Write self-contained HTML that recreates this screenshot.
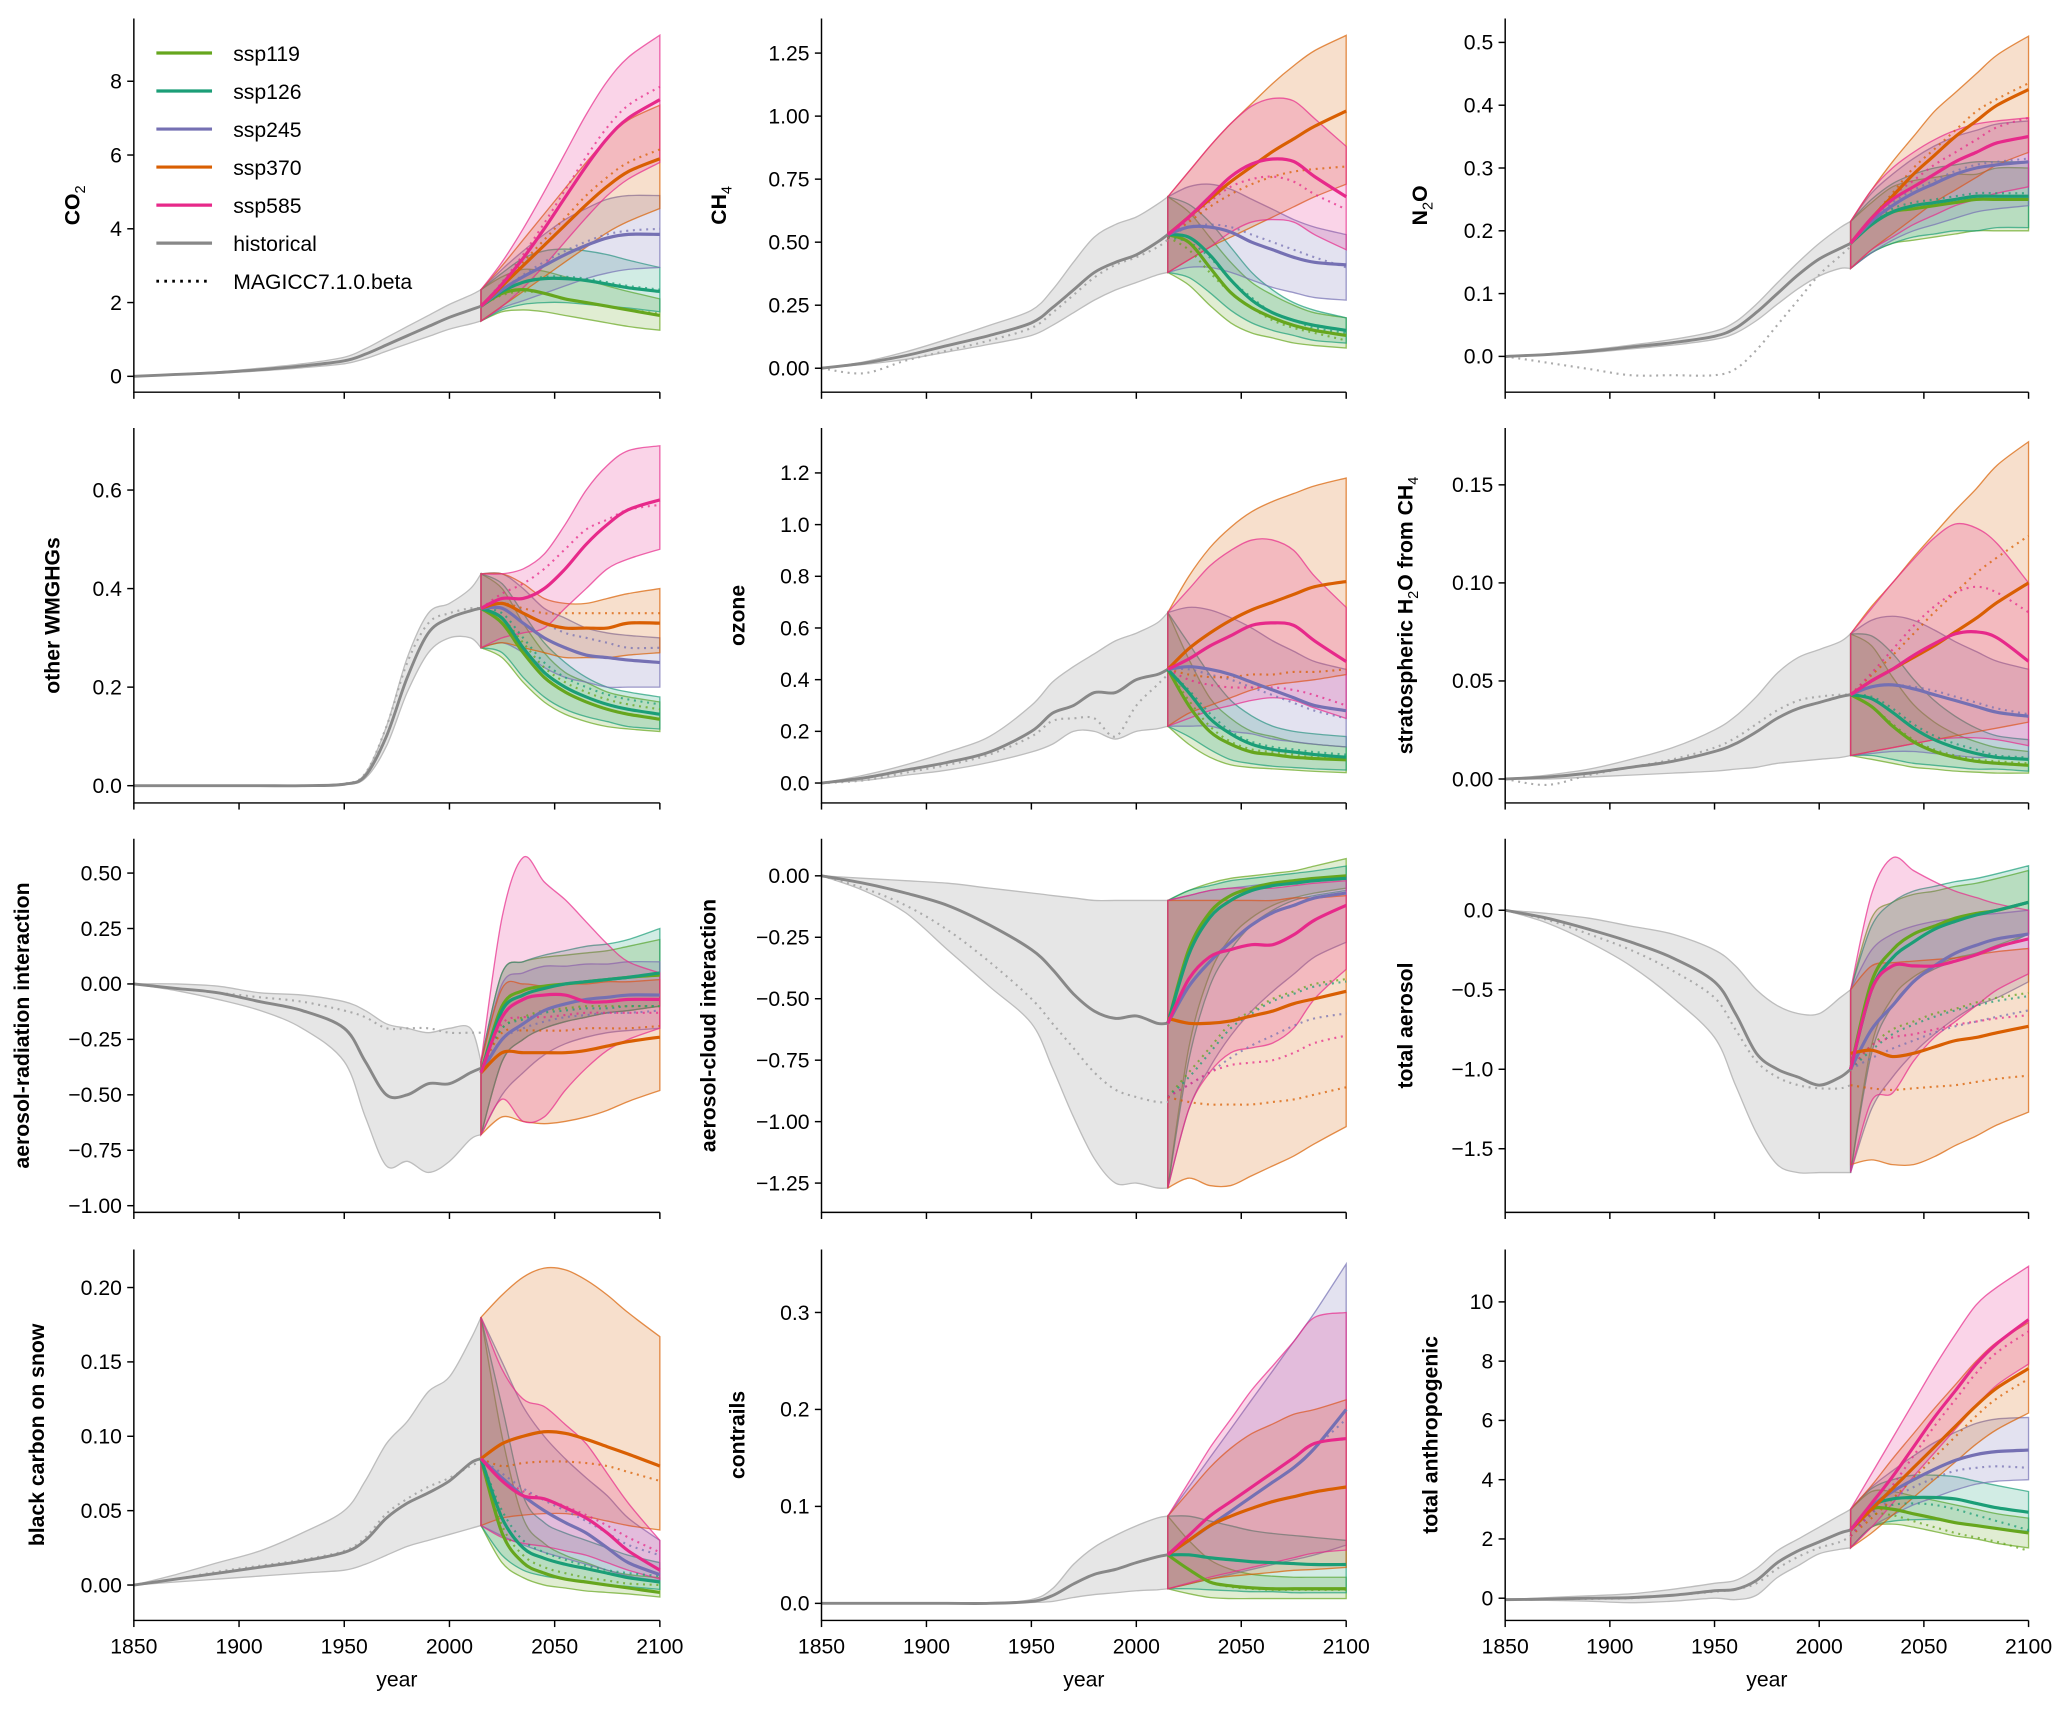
<!DOCTYPE html>
<html><head><meta charset="utf-8"><style>
html,body{margin:0;padding:0;background:#fff;}
svg{display:block;font-family:"Liberation Sans",Arial,sans-serif;}
</style></head><body>
<svg id="fig" width="2067" height="1710" viewBox="0 0 1560 1290.6" xmlns="http://www.w3.org/2000/svg"></svg>
<script>
// ---- data ----
const histYears = [1850,1870,1890,1910,1930,1950,1960,1970,1980,1990,2000,2010,2015];
const scenYears = [2015,2025,2035,2045,2055,2065,2075,2085,2100];
const scenNames = ["ssp119","ssp126","ssp245","ssp370","ssp585"];
const scenColors = ["#66a61e","#1b9e77","#7570b3","#d95f02","#e7298a"];
const xTicks = [1850,1900,1950,2000,2050,2100];

const co2Hist = {med:[0,.05,.1,.18,.28,.42,.6,.85,1.1,1.35,1.6,1.8,1.9], lo:[0,.04,.08,.15,.23,.34,.48,.68,.88,1.08,1.28,1.42,1.5], hi:[0,.06,.12,.22,.34,.52,.75,1.05,1.35,1.65,1.95,2.2,2.35], mag:[0,.05,.1,.18,.28,.42,.6,.85,1.1,1.35,1.6,1.8,1.9]};
const co2Med = [[1.9,2.25,2.35,2.25,2.1,2.0,1.9,1.8,1.65],[1.9,2.3,2.55,2.65,2.65,2.6,2.5,2.4,2.3],[1.9,2.35,2.7,3.0,3.3,3.55,3.75,3.85,3.85],[1.9,2.45,3.0,3.55,4.1,4.65,5.15,5.55,5.9],[1.9,2.5,3.2,4.0,4.85,5.7,6.45,7.0,7.5]];
const co2Lo = [[1.5,1.75,1.8,1.75,1.65,1.55,1.45,1.35,1.25],[1.5,1.8,1.95,2.0,2.0,1.95,1.9,1.85,1.75],[1.5,1.85,2.05,2.25,2.45,2.65,2.8,2.9,2.95],[1.5,1.9,2.3,2.7,3.1,3.5,3.9,4.2,4.55],[1.5,1.9,2.4,3.0,3.65,4.3,4.9,5.35,5.8]];
const co2Hi = [[2.35,2.7,2.9,2.85,2.7,2.6,2.45,2.3,2.1],[2.35,2.8,3.2,3.4,3.45,3.4,3.3,3.15,2.95],[2.35,2.9,3.4,3.85,4.25,4.55,4.8,4.9,4.9],[2.35,3.0,3.7,4.4,5.1,5.8,6.45,6.95,7.35],[2.35,3.1,4.0,5.0,6.05,7.1,8.0,8.65,9.25]];
const co2Mag = [[1.9,2.2,2.3,2.25,2.1,2.0,1.9,1.8,1.7],[1.9,2.3,2.55,2.7,2.7,2.65,2.55,2.45,2.35],[1.9,2.35,2.75,3.1,3.4,3.65,3.85,3.95,4.0],[1.9,2.5,3.1,3.7,4.3,4.9,5.4,5.8,6.15],[1.9,2.55,3.3,4.15,5.05,5.95,6.75,7.35,7.85]];

const ch4Hist = {med:[0,.02,.05,.09,.13,.18,.24,.31,.38,.42,.45,.5,.53], lo:[0,.015,.035,.065,.095,.13,.17,.22,.27,.31,.34,.37,.38], hi:[0,.025,.065,.115,.17,.23,.31,.42,.52,.57,.6,.65,.68], mag:[0,-.02,.03,.07,.11,.16,.22,.29,.36,.41,.44,.48,.51]};
const ch4Med = [[.53,.5,.4,.3,.24,.2,.17,.15,.13],[.53,.52,.45,.35,.27,.22,.19,.17,.15],[.53,.56,.56,.54,.5,.47,.44,.42,.41],[.53,.6,.67,.74,.8,.86,.91,.96,1.02],[.53,.6,.68,.76,.81,.83,.82,.76,.68]];
const ch4Lo = [[.38,.33,.25,.18,.14,.12,.1,.09,.08],[.38,.36,.3,.23,.18,.15,.13,.11,.1],[.38,.4,.4,.38,.35,.32,.3,.28,.27],[.38,.43,.48,.52,.56,.6,.64,.68,.73],[.38,.43,.48,.54,.58,.59,.58,.53,.47]];
const ch4Hi = [[.68,.62,.52,.42,.34,.29,.25,.22,.2],[.68,.65,.58,.48,.38,.31,.26,.23,.2],[.68,.72,.73,.71,.67,.63,.59,.56,.53],[.68,.78,.88,.97,1.05,1.13,1.2,1.26,1.32],[.68,.78,.88,.97,1.04,1.07,1.06,.99,.88]];
const ch4Mag = [[.52,.47,.38,.3,.24,.19,.16,.14,.11],[.52,.5,.44,.35,.28,.22,.19,.16,.14],[.52,.56,.57,.56,.53,.5,.47,.44,.4],[.52,.58,.64,.69,.73,.76,.78,.79,.8],[.52,.59,.66,.72,.75,.76,.74,.69,.63]];

const n2oHist = {med:[0,.003,.008,.015,.022,.032,.045,.07,.1,.13,.155,.172,.18], lo:[0,.002,.006,.012,.018,.027,.037,.057,.083,.108,.128,.14,.14], hi:[0,.004,.01,.018,.027,.04,.055,.083,.117,.15,.18,.205,.215], mag:[0,-.01,-.02,-.03,-.03,-.03,-.02,.01,.05,.09,.13,.16,.175]};
const n2oMed = [[.18,.21,.23,.235,.24,.245,.25,.25,.25],[.18,.21,.23,.24,.245,.25,.255,.255,.255],[.18,.215,.24,.26,.275,.29,.3,.305,.31],[.18,.22,.255,.29,.32,.35,.375,.4,.425],[.18,.22,.25,.27,.29,.31,.325,.34,.35]];
const n2oLo = [[.14,.165,.18,.185,.19,.195,.2,.2,.2],[.14,.165,.18,.19,.195,.2,.2,.205,.205],[.14,.165,.185,.2,.21,.22,.23,.235,.24],[.14,.17,.195,.22,.245,.265,.285,.305,.325],[.14,.17,.19,.21,.225,.24,.25,.26,.27]];
const n2oHi = [[.215,.245,.27,.28,.285,.29,.29,.3,.3],[.215,.25,.275,.29,.3,.305,.31,.31,.31],[.215,.26,.29,.315,.335,.35,.36,.37,.375],[.215,.265,.31,.35,.39,.42,.45,.48,.51],[.215,.265,.3,.325,.345,.36,.37,.375,.38]];
const n2oMag = [[.18,.21,.23,.24,.245,.25,.25,.25,.25],[.18,.21,.235,.245,.25,.255,.26,.26,.26],[.18,.215,.245,.265,.28,.295,.305,.31,.315],[.18,.22,.26,.3,.33,.36,.39,.41,.435],[.18,.22,.255,.28,.305,.325,.345,.365,.38]];

const wmHist = {med:[0,0,0,0,0,.003,.02,.1,.22,.31,.34,.355,.36], lo:[0,0,0,0,0,.002,.015,.08,.19,.27,.3,.3,.28], hi:[0,0,0,0,0,.004,.025,.12,.26,.35,.37,.4,.43], mag:[0,0,0,0,0,.004,.025,.12,.25,.33,.35,.36,.36]};
const wmMed = [[.36,.33,.27,.22,.19,.17,.155,.145,.135],[.36,.34,.28,.23,.2,.18,.165,.155,.145],[.36,.36,.33,.3,.28,.265,.26,.255,.25],[.36,.37,.35,.33,.32,.32,.32,.33,.33],[.36,.38,.38,.4,.44,.49,.53,.56,.58]];
const wmLo = [[.28,.26,.21,.17,.145,.13,.12,.115,.11],[.28,.27,.22,.18,.155,.14,.13,.12,.115],[.28,.29,.27,.24,.22,.21,.2,.2,.2],[.28,.29,.28,.27,.26,.26,.26,.265,.27],[.28,.3,.31,.32,.36,.4,.44,.46,.48]];
const wmHi = [[.43,.4,.33,.27,.23,.21,.19,.18,.17],[.43,.41,.35,.29,.25,.22,.2,.19,.18],[.43,.43,.4,.36,.34,.32,.31,.305,.3],[.43,.43,.41,.38,.37,.37,.38,.39,.4],[.43,.43,.44,.47,.53,.6,.65,.68,.69]];
const wmMag = [[.36,.34,.29,.24,.21,.19,.175,.165,.155],[.36,.35,.3,.25,.22,.2,.185,.175,.165],[.36,.37,.35,.33,.31,.3,.29,.28,.28],[.36,.37,.36,.35,.35,.35,.35,.35,.35],[.36,.39,.41,.44,.48,.52,.54,.56,.57]];

const o3Hist = {med:[0,.02,.05,.08,.12,.2,.27,.3,.35,.35,.4,.42,.44], lo:[0,.01,.03,.05,.08,.12,.15,.2,.2,.17,.2,.21,.22], hi:[0,.03,.07,.12,.18,.3,.39,.45,.5,.55,.58,.62,.66], mag:[0,.01,.04,.07,.11,.18,.24,.25,.25,.18,.3,.38,.42]};
const o3Med = [[.44,.3,.2,.15,.12,.11,.1,.095,.09],[.44,.35,.25,.19,.15,.13,.12,.11,.1],[.44,.45,.44,.42,.39,.36,.33,.3,.28],[.44,.52,.58,.63,.67,.7,.73,.76,.78],[.44,.48,.53,.57,.61,.62,.61,.55,.47]];
const o3Lo = [[.22,.15,.1,.07,.06,.055,.05,.045,.04],[.22,.18,.13,.09,.075,.065,.06,.055,.05],[.22,.22,.22,.2,.19,.17,.16,.15,.14],[.22,.27,.3,.33,.36,.38,.39,.4,.42],[.22,.25,.28,.3,.32,.33,.32,.29,.25]];
const o3Hi = [[.66,.48,.33,.25,.2,.18,.16,.15,.14],[.66,.54,.42,.32,.26,.22,.2,.19,.18],[.66,.68,.67,.64,.6,.55,.51,.47,.44],[.66,.8,.91,.99,1.05,1.09,1.12,1.15,1.18],[.66,.75,.84,.9,.94,.94,.9,.8,.68]];
const o3Mag = [[.44,.32,.22,.16,.13,.12,.11,.1,.1],[.44,.36,.27,.2,.16,.14,.13,.12,.11],[.44,.44,.42,.4,.37,.34,.31,.28,.25],[.44,.42,.41,.41,.42,.42,.43,.43,.44],[.44,.4,.38,.37,.37,.37,.36,.34,.3]];

const h2oHist = {med:[0,.001,.003,.006,.009,.014,.018,.024,.031,.036,.039,.042,.043], lo:[0,0,.001,.002,.003,.004,.005,.006,.008,.009,.01,.011,.012], hi:[0,.002,.005,.01,.016,.025,.032,.042,.054,.062,.066,.07,.074], mag:[0,-.003,.002,.006,.01,.016,.021,.028,.035,.04,.042,.043,.043]};
const h2oMed = [[.043,.037,.027,.019,.014,.011,.009,.008,.007],[.043,.041,.034,.026,.02,.016,.013,.011,.01],[.043,.047,.048,.046,.043,.04,.037,.034,.032],[.043,.05,.056,.062,.068,.075,.082,.09,.1],[.043,.05,.056,.063,.069,.074,.075,.072,.06]];
const h2oLo = [[.012,.01,.008,.006,.005,.004,.0035,.003,.003],[.012,.012,.01,.008,.007,.006,.005,.005,.004],[.012,.013,.014,.014,.013,.012,.011,.011,.01],[.012,.014,.016,.018,.02,.022,.024,.026,.029],[.012,.014,.016,.018,.02,.021,.021,.02,.017]];
const h2oHi = [[.074,.068,.052,.038,.029,.023,.019,.016,.014],[.074,.073,.064,.051,.04,.032,.026,.022,.02],[.074,.081,.083,.081,.076,.07,.065,.06,.056],[.074,.088,.1,.113,.125,.137,.148,.16,.172],[.074,.087,.1,.112,.123,.13,.128,.12,.1]];
const h2oMag = [[.043,.037,.028,.02,.015,.012,.01,.009,.008],[.043,.042,.036,.028,.022,.018,.015,.012,.011],[.043,.047,.048,.047,.045,.042,.039,.036,.033],[.043,.053,.063,.074,.085,.095,.105,.113,.124],[.043,.054,.066,.078,.088,.095,.098,.095,.085]];

const ariHist = {med:[0,-.02,-.04,-.08,-.12,-.2,-.35,-.5,-.5,-.45,-.45,-.4,-.38], lo:[0,-.03,-.07,-.12,-.2,-.35,-.6,-.82,-.8,-.85,-.8,-.7,-.68], hi:[0,0,-.01,-.04,-.05,-.08,-.12,-.18,-.2,-.22,-.2,-.2,-.35], mag:[0,-.02,-.04,-.06,-.08,-.12,-.15,-.2,-.2,-.2,-.22,-.22,-.22]};
const ariMed = [[-.4,-.1,-.03,-.01,0,.01,.02,.03,.04],[-.4,-.12,-.05,-.02,0,.01,.02,.03,.05],[-.4,-.25,-.18,-.12,-.09,-.07,-.06,-.05,-.05],[-.4,-.31,-.31,-.31,-.31,-.3,-.28,-.26,-.24],[-.4,-.15,-.07,-.05,-.05,-.08,-.08,-.07,-.07]];
const ariLo = [[-.68,-.35,-.25,-.2,-.17,-.15,-.13,-.12,-.1],[-.68,-.35,-.25,-.2,-.17,-.15,-.13,-.12,-.1],[-.68,-.5,-.4,-.32,-.27,-.24,-.22,-.21,-.2],[-.68,-.6,-.62,-.63,-.62,-.6,-.57,-.53,-.48],[-.68,-.52,-.62,-.6,-.48,-.38,-.3,-.25,-.2]];
const ariHi = [[-.35,.05,.1,.12,.13,.14,.15,.17,.2],[-.35,.05,.1,.13,.15,.17,.18,.2,.25],[-.35,0,.05,.08,.08,.09,.09,.1,.1],[-.35,-.02,0,-.01,0,0,.01,.01,.02],[-.35,.3,.57,.46,.38,.28,.18,.1,.05]];
const ariMag = [[-.38,-.2,-.15,-.12,-.11,-.1,-.1,-.1,-.1],[-.38,-.2,-.16,-.13,-.12,-.11,-.11,-.1,-.1],[-.38,-.25,-.2,-.17,-.15,-.14,-.13,-.13,-.12],[-.38,-.22,-.21,-.21,-.21,-.2,-.2,-.2,-.19],[-.38,-.18,-.15,-.15,-.14,-.13,-.13,-.13,-.13]];

const aciHist = {med:[0,-.03,-.07,-.12,-.2,-.3,-.38,-.48,-.55,-.58,-.57,-.6,-.6], lo:[0,-.06,-.15,-.3,-.45,-.6,-.78,-.98,-1.15,-1.25,-1.25,-1.27,-1.27], hi:[0,-.01,-.02,-.03,-.05,-.07,-.08,-.09,-.1,-.1,-.1,-.1,-.1], mag:[0,-.05,-.12,-.22,-.35,-.5,-.6,-.7,-.8,-.87,-.9,-.92,-.92]};
const aciMed = [[-.6,-.3,-.15,-.08,-.05,-.03,-.02,-.01,0],[-.6,-.32,-.17,-.1,-.06,-.04,-.03,-.02,-.01],[-.6,-.45,-.35,-.27,-.2,-.15,-.12,-.09,-.07],[-.58,-.6,-.6,-.59,-.57,-.55,-.52,-.5,-.47],[-.6,-.42,-.33,-.3,-.28,-.28,-.24,-.18,-.12]];
const aciLo = [[-1.27,-.7,-.4,-.25,-.17,-.12,-.09,-.07,-.05],[-1.27,-.75,-.45,-.3,-.2,-.14,-.1,-.08,-.06],[-1.27,-.95,-.78,-.65,-.55,-.47,-.4,-.33,-.27],[-1.27,-1.23,-1.26,-1.26,-1.22,-1.18,-1.14,-1.09,-1.02],[-1.27,-.95,-.8,-.72,-.7,-.68,-.62,-.5,-.38]];
const aciHi = [[-.1,-.06,-.03,-.01,0,.01,.02,.04,.07],[-.1,-.06,-.04,-.02,-.01,0,.01,.02,.04],[-.1,-.08,-.06,-.05,-.04,-.03,-.02,-.01,0],[-.1,-.1,-.1,-.1,-.1,-.1,-.09,-.09,-.08],[-.1,-.08,-.06,-.05,-.05,-.05,-.04,-.03,-.02]];
const aciMag = [[-.9,-.8,-.7,-.6,-.55,-.5,-.47,-.44,-.42],[-.9,-.82,-.72,-.62,-.56,-.51,-.48,-.45,-.43],[-.9,-.85,-.8,-.74,-.69,-.65,-.61,-.58,-.56],[-.9,-.92,-.93,-.93,-.93,-.92,-.91,-.89,-.86],[-.9,-.85,-.8,-.77,-.76,-.75,-.72,-.68,-.65]];

const taHist = {med:[0,-.05,-.12,-.2,-.3,-.45,-.65,-.9,-1.0,-1.05,-1.1,-1.05,-1.0], lo:[0,-.08,-.2,-.35,-.55,-.8,-1.1,-1.4,-1.6,-1.65,-1.65,-1.65,-1.65], hi:[0,-.02,-.05,-.1,-.15,-.25,-.35,-.5,-.6,-.65,-.65,-.55,-.5], mag:[0,-.06,-.15,-.25,-.38,-.55,-.75,-.95,-1.05,-1.1,-1.12,-1.12,-1.1]};
const taMed = [[-1.0,-.45,-.25,-.15,-.1,-.05,-.02,0,.05],[-1.0,-.5,-.3,-.2,-.12,-.07,-.03,0,.05],[-1.0,-.75,-.6,-.45,-.35,-.27,-.22,-.18,-.15],[-.9,-.88,-.92,-.9,-.86,-.82,-.8,-.77,-.73],[-1.0,-.5,-.35,-.35,-.35,-.32,-.28,-.23,-.18]];
const taLo = [[-1.65,-.85,-.55,-.42,-.35,-.3,-.27,-.22,-.15],[-1.65,-.9,-.6,-.45,-.37,-.32,-.28,-.24,-.15],[-1.65,-1.25,-1.05,-.9,-.78,-.68,-.6,-.55,-.45],[-1.6,-1.57,-1.6,-1.6,-1.55,-1.48,-1.42,-1.35,-1.27],[-1.65,-1.2,-1.15,-.95,-.8,-.7,-.6,-.5,-.4]];
const taHi = [[-.5,-.05,.05,.1,.12,.15,.17,.2,.25],[-.5,-.1,.05,.12,.15,.18,.2,.23,.28],[-.5,-.25,-.15,-.1,-.07,-.05,-.03,-.02,0],[-.5,-.35,-.33,-.32,-.31,-.3,-.28,-.26,-.24],[-.5,.1,.33,.25,.18,.12,.08,.04,0]];
const taMag = [[-1.0,-.85,-.75,-.7,-.65,-.62,-.58,-.55,-.52],[-1.0,-.88,-.78,-.72,-.67,-.63,-.6,-.57,-.54],[-1.0,-.93,-.87,-.82,-.77,-.73,-.7,-.67,-.63],[-1.1,-1.12,-1.13,-1.12,-1.11,-1.1,-1.08,-1.06,-1.04],[-1.0,-.85,-.8,-.78,-.75,-.72,-.7,-.68,-.66]];

const bcHist = {med:[0,.004,.008,.012,.016,.022,.03,.045,.055,.062,.07,.082,.085], lo:[0,.002,.004,.006,.008,.01,.014,.02,.026,.03,.034,.038,.04], hi:[0,.007,.015,.023,.035,.05,.07,.095,.11,.13,.14,.165,.18], mag:[0,.004,.009,.013,.017,.023,.032,.048,.058,.066,.072,.08,.083]};
const bcMed = [[.085,.035,.015,.008,.004,.002,0,-.002,-.005],[.085,.045,.025,.018,.014,.011,.008,.005,.002],[.085,.072,.06,.05,.042,.035,.025,.015,.007],[.085,.095,.1,.103,.102,.098,.093,.088,.08],[.085,.07,.06,.058,.052,.045,.035,.023,.01]];
const bcLo = [[.04,.015,.005,0,-.002,-.004,-.005,-.006,-.008],[.04,.02,.01,.006,.004,.002,0,-.001,-.003],[.04,.033,.027,.022,.018,.014,.01,.006,.003],[.04,.045,.047,.048,.048,.046,.043,.04,.037],[.04,.032,.028,.026,.023,.02,.015,.01,.004]];
const bcHi = [[.18,.1,.045,.028,.02,.015,.01,.007,.005],[.18,.12,.06,.042,.035,.03,.025,.02,.015],[.18,.15,.12,.1,.085,.072,.06,.045,.03],[.18,.195,.207,.213,.212,.205,.195,.183,.167],[.18,.145,.125,.12,.108,.095,.075,.055,.03]];
const bcMag = [[.085,.04,.02,.012,.008,.005,.003,.001,0],[.085,.05,.03,.022,.017,.013,.01,.008,.006],[.085,.075,.065,.057,.05,.043,.035,.027,.02],[.085,.08,.082,.083,.083,.082,.08,.076,.07],[.085,.072,.063,.058,.053,.047,.04,.032,.022]];

const conHist = {med:[0,0,0,0,0,.002,.008,.02,.03,.035,.042,.048,.05], lo:[0,0,0,0,0,.001,.002,.006,.009,.011,.013,.014,.015], hi:[0,0,0,0,0,.004,.015,.04,.058,.07,.08,.088,.09], mag:[0,0,0,0,0,.002,.008,.02,.03,.035,.042,.048,.05]};
const conMed = [[.05,.035,.022,.018,.016,.015,.015,.015,.015],[.05,.05,.047,.045,.043,.042,.041,.04,.04],[.05,.065,.08,.095,.11,.125,.14,.16,.2],[.05,.065,.08,.09,.098,.105,.11,.115,.12],[.05,.07,.09,.105,.12,.135,.15,.165,.17]];
const conLo = [[.015,.01,.006,.005,.005,.005,.005,.005,.005],[.015,.015,.014,.013,.012,.012,.011,.011,.011],[.015,.02,.025,.03,.035,.04,.045,.05,.06],[.015,.02,.025,.028,.03,.032,.034,.035,.037],[.015,.021,.027,.032,.037,.042,.047,.052,.055]];
const conHi = [[.09,.065,.045,.035,.03,.028,.027,.027,.027],[.09,.09,.085,.08,.075,.072,.07,.068,.065],[.09,.12,.15,.18,.21,.24,.27,.3,.35],[.09,.115,.14,.16,.175,.185,.195,.2,.21],[.09,.125,.16,.19,.22,.245,.27,.295,.3]];
const conMag = [[.05,.035,.022,.017,.015,.014,.014,.014,.014],[.05,.05,.047,.045,.043,.042,.041,.04,.04],[.05,.065,.08,.095,.11,.125,.14,.16,.19],[.05,.065,.08,.09,.098,.105,.11,.115,.12],[.05,.07,.09,.105,.12,.135,.15,.165,.17]];

const tanHist = {med:[-.05,-.03,0,.02,.1,.25,.3,.6,1.2,1.6,1.9,2.2,2.3], lo:[-.05,-.07,-.1,-.15,-.1,0,-.05,.1,.7,1.1,1.5,1.65,1.7], hi:[-.05,.02,.08,.15,.3,.5,.6,1.0,1.6,2.0,2.4,2.8,3.0], mag:[-.05,-.04,-.02,0,.1,.22,.3,.5,1.0,1.4,1.7,1.9,2.1]};
const tanMed = [[2.3,3.0,3.0,2.85,2.7,2.55,2.45,2.35,2.2],[2.3,3.1,3.35,3.4,3.4,3.35,3.2,3.05,2.9],[2.3,3.1,3.6,4.0,4.35,4.65,4.85,4.95,5.0],[2.3,3.0,3.7,4.4,5.1,5.8,6.5,7.1,7.75],[2.3,3.2,4.1,5.1,6.1,7.0,7.9,8.6,9.4]];
const tanLo = [[1.7,2.4,2.5,2.4,2.25,2.1,2.0,1.85,1.7],[1.7,2.4,2.6,2.65,2.65,2.55,2.45,2.35,2.25],[1.7,2.4,2.8,3.15,3.4,3.65,3.85,3.95,4.0],[1.7,2.2,2.8,3.4,4.0,4.6,5.2,5.7,6.25],[1.7,2.4,3.2,4.1,4.9,5.7,6.5,7.2,7.9]];
const tanHi = [[3.0,3.6,3.6,3.45,3.3,3.15,3.0,2.85,2.7],[3.0,3.7,4.0,4.15,4.15,4.1,3.95,3.8,3.6],[3.0,3.75,4.3,4.8,5.25,5.6,5.9,6.05,6.1],[3.0,3.8,4.7,5.55,6.4,7.2,8.0,8.65,9.3],[3.0,4.2,5.4,6.6,7.8,8.9,9.9,10.5,11.2]];
const tanMag = [[2.1,2.8,2.8,2.6,2.4,2.2,2.05,1.9,1.6],[2.1,2.9,3.15,3.2,3.15,3.0,2.8,2.6,2.3],[2.1,2.85,3.35,3.75,4.05,4.3,4.4,4.45,4.4],[2.1,2.7,3.35,4.05,4.75,5.45,6.15,6.75,7.4],[2.1,2.9,3.8,4.8,5.8,6.7,7.6,8.3,9.0]];

// ---- layout (viewBox units) ----
const colX = [[101,498],[620,1016],[1136,1531]];
const rowY = [[14,296],[323,606],[633,915],[943,1223]];
const panels = [
 {id:"co2",label:["CO","2",""],lx:60,ymin:-0.43,ymax:9.7,ticks:[0,2,4,6,8],dec:0,h:co2Hist,med:co2Med,lo:co2Lo,hi:co2Hi,mag:co2Mag},
 {id:"ch4",label:["CH","4",""],lx:548,ymin:-0.095,ymax:1.387,ticks:[0,.25,.5,.75,1,1.25],dec:2,h:ch4Hist,med:ch4Med,lo:ch4Lo,hi:ch4Hi,mag:ch4Mag},
 {id:"n2o",label:["N","2","O"],lx:1077,ymin:-0.057,ymax:0.538,ticks:[0,.1,.2,.3,.4,.5],dec:1,h:n2oHist,med:n2oMed,lo:n2oLo,hi:n2oHi,mag:n2oMag},
 {id:"wmghg",label:["other WMGHGs"],lx:45,ymin:-0.035,ymax:0.726,ticks:[0,.2,.4,.6],dec:1,h:wmHist,med:wmMed,lo:wmLo,hi:wmHi,mag:wmMag},
 {id:"ozone",label:["ozone"],lx:562,ymin:-0.077,ymax:1.374,ticks:[0,.2,.4,.6,.8,1,1.2],dec:1,h:o3Hist,med:o3Med,lo:o3Lo,hi:o3Hi,mag:o3Mag},
 {id:"strat-h2o",label:["stratospheric H","2","O from CH","4"],lx:1066,ymin:-0.0122,ymax:0.179,ticks:[0,.05,.1,.15],dec:2,h:h2oHist,med:h2oMed,lo:h2oLo,hi:h2oHi,mag:h2oMag},
 {id:"aer-rad",label:["aerosol-radiation interaction"],lx:22,ymin:-1.03,ymax:0.655,ticks:[-1,-.75,-.5,-.25,0,.25,.5],dec:2,h:ariHist,med:ariMed,lo:ariLo,hi:ariHi,mag:ariMag},
 {id:"aer-cloud",label:["aerosol-cloud interaction"],lx:540,ymin:-1.369,ymax:0.151,ticks:[-1.25,-1,-.75,-.5,-.25,0],dec:2,h:aciHist,med:aciMed,lo:aciLo,hi:aciHi,mag:aciMag},
 {id:"total-aerosol",label:["total aerosol"],lx:1066,ymin:-1.9,ymax:0.45,ticks:[-1.5,-1,-.5,0],dec:1,h:taHist,med:taMed,lo:taLo,hi:taHi,mag:taMag},
 {id:"bc-snow",label:["black carbon on snow"],lx:33,ymin:-0.0238,ymax:0.2256,ticks:[0,.05,.1,.15,.2],dec:2,h:bcHist,med:bcMed,lo:bcLo,hi:bcHi,mag:bcMag},
 {id:"contrails",label:["contrails"],lx:562,ymin:-0.0176,ymax:0.365,ticks:[0,.1,.2,.3],dec:1,h:conHist,med:conMed,lo:conLo,hi:conHi,mag:conMag},
 {id:"total-anthro",label:["total anthropogenic"],lx:1085,ymin:-0.75,ymax:11.77,ticks:[0,2,4,6,8,10],dec:0,h:tanHist,med:tanMed,lo:tanLo,hi:tanHi,mag:tanMag}
];

const NS="http://www.w3.org/2000/svg";
const svg=document.getElementById('fig');
function mk(tag,attrs,parent){const e=document.createElementNS(NS,tag);for(const k in attrs)e.setAttribute(k,attrs[k]);(parent||svg).appendChild(e);return e;}
function fmt(v,d){const s=Math.abs(v).toFixed(d);return (v<0?"\u2212":"")+s;}
// smooth path through points (catmull-rom -> bezier); cont=true continues an existing path with L
function smooth(pts,cont){
  let d=(cont?'L':'M')+pts[0][0].toFixed(1)+','+pts[0][1].toFixed(1);
  for(let i=0;i<pts.length-1;i++){
    const p0=pts[Math.max(0,i-1)],p1=pts[i],p2=pts[i+1],p3=pts[Math.min(pts.length-1,i+2)];
    const c1x=p1[0]+(p2[0]-p0[0])/6,c1y=p1[1]+(p2[1]-p0[1])/6;
    const c2x=p2[0]-(p3[0]-p1[0])/6,c2y=p2[1]-(p3[1]-p1[1])/6;
    d+='C'+c1x.toFixed(1)+','+c1y.toFixed(1)+' '+c2x.toFixed(1)+','+c2y.toFixed(1)+' '+p2[0].toFixed(1)+','+p2[1].toFixed(1);
  }
  return d;
}

panels.forEach((p,i)=>{
  const c=i%3,r=Math.floor(i/3);
  const [x0,x1]=colX[c],[y0,y1]=rowY[r];
  const xs=yr=>x0+(yr-1850)/(2100-1850)*(x1-x0);
  const ys=v=>y1-(v-p.ymin)/(p.ymax-p.ymin)*(y1-y0);
  const g=mk('g',{});
  
  
  const pts=(yrs,vals)=>yrs.map((y,k)=>[xs(y),ys(vals[k])]);
  const line=(yrs,vals)=>smooth(pts(yrs,vals),false);
  const band=(yrs,lo,hi)=>smooth(pts(yrs,hi),false)+smooth(pts(yrs,lo).reverse(),true)+'Z';
  const hb=mk('path',{d:band(histYears,p.h.lo,p.h.hi),fill:'#e6e6e6',stroke:'#bdbdbd','stroke-width':1},g);
  
  
  for(let s=0;s<5;s++){
    const b=mk('path',{d:band(scenYears,p.lo[s],p.hi[s]),fill:scenColors[s],'fill-opacity':0.2,stroke:scenColors[s],'stroke-opacity':0.7,'stroke-width':1},g);
    
    
  }
  const hm=mk('path',{d:line(histYears,p.h.mag),fill:'none',stroke:'#aaaaaa','stroke-width':1.6,'stroke-dasharray':'1.5 3.5'},g);
  
  
  for(let s=0;s<5;s++){
    const m=mk('path',{d:line(scenYears,p.mag[s]),fill:'none',stroke:scenColors[s],'stroke-opacity':0.75,'stroke-width':1.6,'stroke-dasharray':'1.5 3.5'},g);
    
    
  }
  const hl=mk('path',{d:line(histYears,p.h.med),fill:'none',stroke:'#888888','stroke-width':2.2},g);
  
  
  for(let s=0;s<5;s++){
    const m=mk('path',{d:line(scenYears,p.med[s]),fill:'none',stroke:scenColors[s],'stroke-width':2.4},g);
    
    
  }
  const ax=mk('path',{d:`M${x0},${y0}L${x0},${y1}L${x1},${y1}`,fill:'none',stroke:'#000','stroke-width':1.1},g);
  
  
  xTicks.forEach(t=>{
    mk('line',{x1:xs(t),x2:xs(t),y1:y1,y2:y1+5,stroke:'#000','stroke-width':1.1},g);
    if(r===3){
      const tl=mk('text',{x:xs(t),y:y1+25,'text-anchor':'middle','font-size':16,fill:'#000'},g);
      tl.textContent=t;
      
      
    }
  });
  if(r===3){
    const xl=mk('text',{x:(x0+x1)/2,y:1273,'text-anchor':'middle','font-size':16,fill:'#000'},g);
    xl.textContent='year';
    
    
  }
  p.ticks.forEach(t=>{
    mk('line',{x1:x0-5,x2:x0,y1:ys(t),y2:ys(t),stroke:'#000','stroke-width':1.1},g);
    const tl=mk('text',{x:x0-9,y:ys(t)+5.5,'text-anchor':'end','font-size':16,fill:'#000'},g);
    tl.textContent=fmt(t,p.dec);
    
    
  });
  const cy=(y0+y1)/2;
  const yl=mk('text',{x:0,y:0,'text-anchor':'middle','font-size':16,'font-weight':'bold',fill:'#000',transform:`translate(${p.lx},${cy}) rotate(-90)`},g);
  
  
  p.label.forEach((part,k)=>{
    if(!part)return;
    const ts=mk('tspan',{},yl);
    if(k%2===1){ts.setAttribute('font-size',11);ts.setAttribute('dy',4);ts.setAttribute('font-weight','normal');}
    else if(k>0){ts.setAttribute('dy',-4);}
    ts.textContent=part;
  });
});

const leg=mk('g',{});


const legNames=scenNames.concat(["historical","MAGICC7.1.0.beta"]);
const legColors=scenColors.concat(["#888888","#000000"]);
legNames.forEach((n,k)=>{
  const y=40+k*28.7;
  const e=mk('g',{},leg);
  
  
  const attrs={x1:118,x2:160,y1:y,y2:y,stroke:legColors[k],'stroke-width':2.4};
  if(k===6){attrs['stroke-dasharray']='2 4';attrs['stroke-width']=2.2;}
  mk('line',attrs,e);
  const t=mk('text',{x:176,y:y+6,'font-size':16,fill:'#000'},e);
  t.textContent=n;
});
</script>
</body></html>
